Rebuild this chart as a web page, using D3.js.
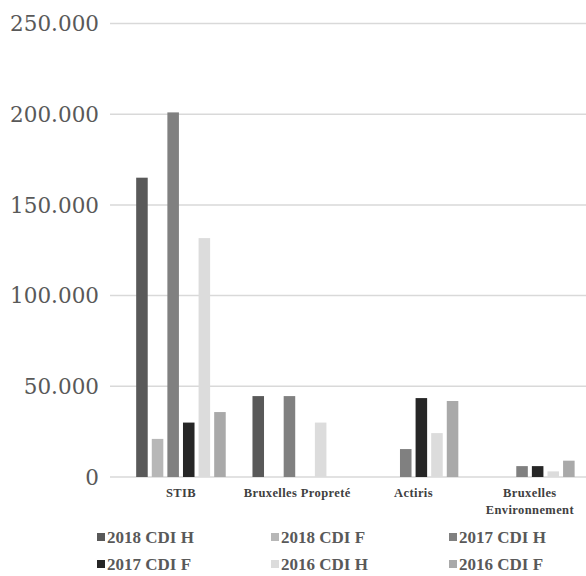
<!DOCTYPE html>
<html>
<head>
<meta charset="utf-8">
<script src="https://cdn.jsdelivr.net/npm/d3@7"></script>
<style>
  body { margin: 0; background: #fff; }
</style>
</head>
<body>
<div id="chart"></div>
<script>
// data
var categories = ["STIB", "Bruxelles Propreté", "Actiris", "Bruxelles Environnement"];
var series = ["2018 CDI H", "2018 CDI F", "2017 CDI H", "2017 CDI F", "2016 CDI H", "2016 CDI F"];
var v2018H = [165000, 44600, 0, 0];
var v2018F = [21000, 0, 0, 0];
var v2017H = [201000, 44600, 15400, 6000];
var v2017F = [30000, 0, 43500, 6000];
var v2016H = [131700, 30000, 24200, 3100];
var v2016F = [35800, 0, 41900, 9000];
var yTicks = [0, 50000, 100000, 150000, 200000, 250000];
var colors = ["#595959", "#b7b7b7", "#808080", "#262626", "#dcdcdc", "#a9a9a9"];

var allValues = [v2018H, v2018F, v2017H, v2017F, v2016H, v2016F];

var width = 586, height = 576;

var svg = d3.select("#chart")
  .append("svg")
  .attr("width", width)
  .attr("height", height);

var y = d3.scaleLinear()
  .domain([0, 250000])
  .range([477, 23.5]);

var x0 = d3.scaleBand()
  .domain(categories)
  .range([122.8, 588])
  .paddingInner(0.23)
  .paddingOuter(0.115);

var x1 = d3.scaleBand()
  .domain(series)
  .range([0, x0.bandwidth()])
  .paddingInner(0.26);

var fmt = function(d) {
  return d3.format(",")(d).replace(/,/g, ".");
};

// gridlines
svg.append("g")
  .selectAll("line")
  .data(yTicks)
  .enter()
  .append("line")
  .attr("x1", 110)
  .attr("x2", 586)
  .attr("y1", d => y(d))
  .attr("y2", d => y(d))
  .attr("stroke", "#d9d9d9")
  .attr("stroke-width", 1.5);

// y axis labels
svg.append("g")
  .selectAll("text")
  .data(yTicks)
  .enter()
  .append("text")
  .attr("x", 99)
  .attr("y", d => y(d))
  .attr("dy", "0.36em")
  .attr("text-anchor", "end")
  .style("font-family", "'DejaVu Serif', serif")
  .style("font-size", "21.5px")
  .style("fill", "#595959")
  .text(d => d === 0 ? "0" : fmt(d));

// bars
var groups = svg.append("g")
  .selectAll("g")
  .data(categories)
  .enter()
  .append("g")
  .attr("transform", d => "translate(" + x0(d) + ",0)");

groups.selectAll("rect")
  .data((c, ci) => series.map((s, si) => ({s: s, si: si, v: allValues[si][ci]})))
  .enter()
  .filter(d => d.v > 0)
  .append("rect")
  .attr("x", d => x1(d.s))
  .attr("y", d => y(d.v))
  .attr("width", x1.bandwidth())
  .attr("height", d => y(0) - y(d.v))
  .attr("fill", d => colors[d.si]);

// category labels
var catLines = {
  "STIB": ["STIB"],
  "Bruxelles Propreté": ["Bruxelles Propreté"],
  "Actiris": ["Actiris"],
  "Bruxelles Environnement": ["Bruxelles", "Environnement"]
};

svg.append("g")
  .selectAll("text")
  .data(categories)
  .enter()
  .append("text")
  .attr("x", d => x0(d) + x0.bandwidth() / 2)
  .attr("y", 497)
  .attr("text-anchor", "middle")
  .style("font-family", "'Liberation Serif', serif")
  .style("font-weight", "bold")
  .style("font-size", "12.5px")
  .style("letter-spacing", "0.4px")
  .style("fill", "#404040")
  .each(function(d) {
    var t = d3.select(this);
    catLines[d].forEach((line, i) => {
      t.append("tspan")
        .attr("x", x0(d) + x0.bandwidth() / 2)
        .attr("dy", i === 0 ? 0 : 17)
        .text(line);
    });
  });

// legend
var legendCols = [97, 271, 449];
var legendRows = [537, 564];

var legend = svg.append("g")
  .selectAll("g")
  .data(series)
  .enter()
  .append("g")
  .attr("transform", (d, i) => "translate(" + legendCols[i % 3] + "," + legendRows[Math.floor(i / 3)] + ")");

legend.append("rect")
  .attr("x", 0)
  .attr("y", -4)
  .attr("width", 8)
  .attr("height", 8)
  .attr("fill", (d, i) => colors[i]);

legend.append("text")
  .attr("x", 10)
  .attr("y", 0)
  .attr("dy", "0.35em")
  .style("font-family", "'Liberation Serif', serif")
  .style("font-weight", "bold")
  .style("font-size", "17px")
  .style("fill", "#595959")
  .text(d => d);
</script>
</body>
</html>
